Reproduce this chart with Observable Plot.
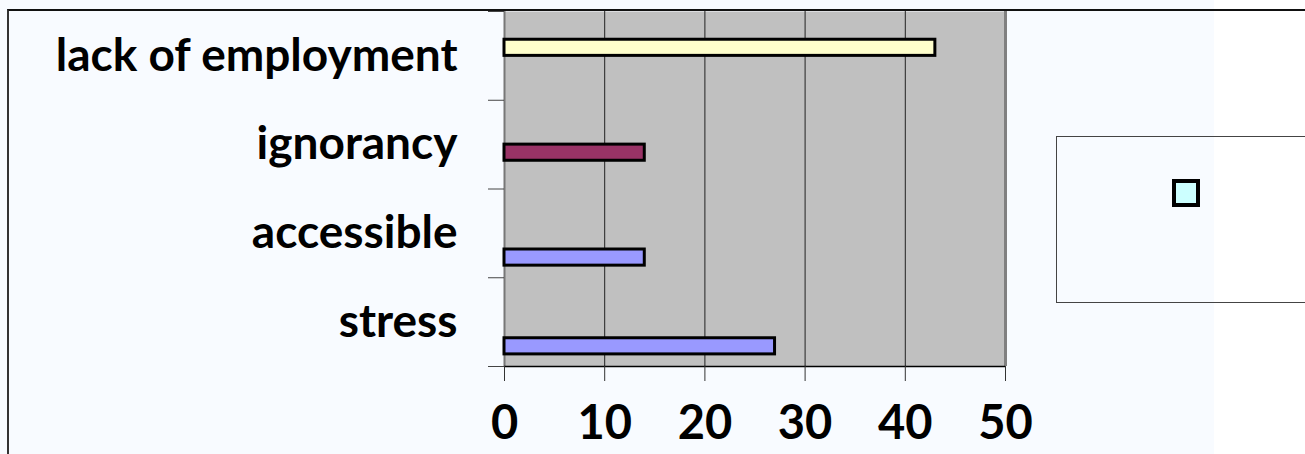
<!DOCTYPE html>
<html>
<head>
<meta charset="utf-8">
<script src="https://cdn.jsdelivr.net/npm/d3@7"></script>
<script src="https://cdn.jsdelivr.net/npm/@observablehq/plot@0.6"></script>
<style>
  html, body { margin: 0; padding: 0; background: #ffffff; }
  #wrap {
    position: relative; width: 1305px; height: 454px; overflow: hidden;
    background: linear-gradient(to right, #f8fbff 0, #f8fbff 1214px, #ffffff 1214px);
    font-family: Lato, "Open Sans", sans-serif;
  }
  #outer {
    position: absolute; left: 7px; top: 9px; right: -20px; bottom: -20px;
    border-top: 2px solid #111; border-left: 2.5px solid #333; pointer-events: none;
  }
  #chart { position: absolute; left: 0; top: 0; }
  #legend {
    position: absolute; left: 1056px; top: 136px; width: 400px; height: 167px;
    border: 1.5px solid #444; box-sizing: border-box;
  }
  .swatch {
    position: absolute; width: 28px; height: 28px; box-sizing: border-box;
    border: 4px solid #000;
  }
</style>
</head>
<body>
<div id="wrap">
  <div id="chart"></div>
  <div id="outer"></div>
  <div id="legend"></div>
</div>
<script>
// Categories listed bottom to top (Excel bar-chart order)
const categories = ["stress", "accessible", "ignorancy", "lack of employment"];
const seriesNames = ["Series1", "Series2", "Series3", "Series4"];
const seriesColors = ["#9999ff", "#993366", "#ffffcc", "#ccffff"];
const series1 = [27, 14, null, null];
const series2 = [null, null, 14, null];
const series3 = [null, null, null, 43];
const series4 = [null, null, null, null];
const xTicks = [0, 10, 20, 30, 40, 50];
const gapWidth = 1.5; // Excel gap width 150%

const seriesValues = [series1, series2, series3, series4];
const rows = [];
seriesValues.forEach((vals, s) => {
  vals.forEach((v, i) => {
    if (v != null) rows.push({category: categories[i], series: seriesNames[s], value: v, i, s});
  });
});
const slots = seriesNames.length + gapWidth;

const chart = Plot.plot({
  width: 1305,
  height: 454,
  marginLeft: 504,
  marginRight: 300,
  marginTop: 11,
  marginBottom: 88,
  style: {background: "transparent", fontFamily: "Lato, 'Open Sans', sans-serif", color: "#000"},
  x: {domain: [xTicks[0], xTicks[xTicks.length - 1]], label: null},
  y: {domain: [0, categories.length], label: null},
  color: {domain: seriesNames, range: seriesColors},
  marks: [
    Plot.frame({fill: "#c0c0c0", stroke: null}),
    Plot.ruleX(xTicks.slice(1, -1), {stroke: "#222", strokeWidth: 1}),
    Plot.ruleX([xTicks[xTicks.length - 1]], {stroke: "#808080", strokeWidth: 3}),
    Plot.ruleX([xTicks[0]], {stroke: "#777", strokeWidth: 2}),
    Plot.rect(rows, {
      x1: 0,
      x2: "value",
      y1: d => d.i + (gapWidth / 2 + d.s) / slots,
      y2: d => d.i + (gapWidth / 2 + d.s + 1) / slots,
      fill: "series",
      stroke: "#000",
      strokeWidth: 3
    }),
    Plot.ruleY([0], {stroke: "#000", strokeWidth: 1.5}),
    Plot.axisY({
      ticks: d3.range(categories.length + 1),
      tickSize: 16,
      tickFormat: () => "",
      stroke: "#444",
      label: null
    }),
    Plot.axisY({
      ticks: categories.map((c, i) => i + 0.5),
      tickSize: 0,
      tickPadding: 47,
      tickFormat: v => categories[Math.floor(v)],
      fontSize: 46,
      fontWeight: "bold",
      fill: "#000",
      label: null
    }),
    Plot.axisX({
      ticks: xTicks,
      tickSize: 15,
      tickPadding: 24,
      fontSize: 47,
      fontWeight: "bold",
      stroke: "#333",
      fill: "#000",
      label: null
    })
  ]
});
document.getElementById("chart").appendChild(chart);

// Legend: only the last series' key is visible in the reference
const legend = document.getElementById("legend");
const sw = document.createElement("div");
sw.className = "swatch";
sw.style.left = "115px";
sw.style.top = "42px";
sw.style.background = seriesColors[3];
legend.appendChild(sw);
</script>
</body>
</html>
